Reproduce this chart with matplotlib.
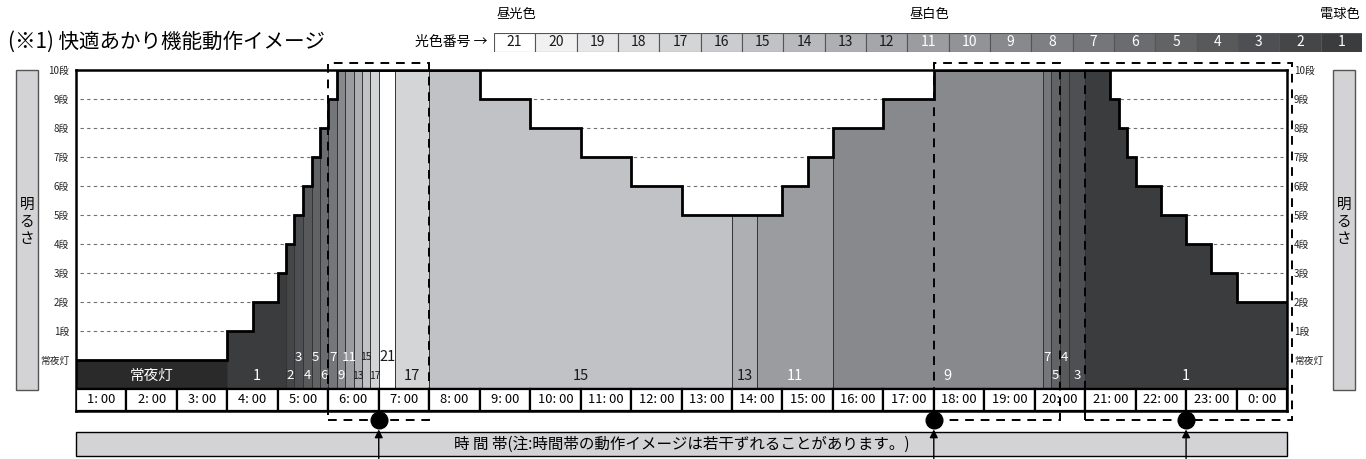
import matplotlib
matplotlib.use("Agg")
import matplotlib.pyplot as plt
from matplotlib.patches import Rectangle
import numpy as np

plt.rcParams['font.family'] = ['Noto Sans CJK JP', 'DejaVu Sans']

# brightness profile: x is in hour-box units (0 = left edge of the "1: 00" box)
step_edges = [0, 3, 3.5, 4, 4.17, 4.33, 4.5, 4.67, 4.83, 5, 5.17, 8, 9, 10, 11, 12,
              14, 14.5, 15, 16, 17, 20.5, 20.67, 20.83, 21, 21.5, 22, 22.5, 23, 24]
step_levels = [0, 1, 2, 3, 4, 5, 6, 7, 8, 9, 10, 9, 8, 7, 6, 5,
               6, 7, 8, 9, 10, 9, 8, 7, 6, 5, 4, 3, 2]

# light colour segments (光色番号), 0 = 常夜灯
seg_edges = [0, 3, 4.17, 4.33, 4.5, 4.67, 4.83, 5, 5.17, 5.33, 5.5, 5.67, 5.83, 6,
             6.33, 7, 13, 13.5, 15, 19.17, 19.33, 19.5, 19.67, 20, 24]
seg_colors = [0, 1, 2, 3, 4, 5, 6, 7, 9, 11, 13, 15, 17, 21, 17, 15, 13, 11, 9, 7, 5, 4, 3, 1]

hours = ['1: 00', '2: 00', '3: 00', '4: 00', '5: 00', '6: 00', '7: 00', '8: 00',
         '9: 00', '10: 00', '11: 00', '12: 00', '13: 00', '14: 00', '15: 00', '16: 00',
         '17: 00', '18: 00', '19: 00', '20: 00', '21: 00', '22: 00', '23: 00', '0: 00']
level_labels = ['常夜灯', '1段', '2段', '3段', '4段', '5段', '6段', '7段', '8段', '9段', '10段']

# legend strip
legend_numbers = [21, 20, 19, 18, 17, 16, 15, 14, 13, 12, 11, 10, 9, 8, 7, 6, 5, 4, 3, 2, 1]
palette = {0: '#2a2a2a', 1: '#3b3c3e', 2: '#454648', 3: '#4e4f52', 4: '#58595b', 5: '#626365',
           6: '#6b6c6f', 7: '#757679', 8: '#7e7f82', 9: '#88898c', 10: '#929396', 11: '#9b9c9f',
           12: '#a5a6a9', 13: '#aeafb2', 14: '#b8b9bc', 15: '#c1c2c5', 16: '#cbcccf',
           17: '#d4d5d7', 18: '#dedee0', 19: '#e7e7e9', 20: '#f1f1f2', 21: '#ffffff'}

# highlighted periods (dashed boxes) and marker positions
hl_start = [5, 17, 20]
hl_end = [7, 19.5, 24.1]
hl_mark = [6, 17, 22]

W, H = 1366, 459
fig = plt.figure(figsize=(W / 100, H / 100), dpi=100)
ax = fig.add_axes([76 / W, 1 - 411 / H, 1211 / W, 341 / H])
ax.set_xlim(0, 24)
ax.set_ylim(-1.76, 10)


def level_at(x):
    i = np.searchsorted(step_edges, x, side='right') - 1
    return step_levels[min(i, len(step_levels) - 1)]


# dashed grid (only shows in the white part)
ax.hlines(range(1, 10), 0.08, 23.92, colors='#6f6f6f', linestyles=(0, (3, 3)), lw=0.8, zorder=1)

# coloured areas
for i, c in enumerate(seg_colors):
    a, b = seg_edges[i], seg_edges[i + 1]
    xs = [a] + [e for e in step_edges if a < e < b] + [b]
    ys = [level_at(x) for x in xs]
    ys[-1] = ys[-2]
    ax.fill_between(xs, -1, ys, step='post', color=palette[c], lw=0, zorder=2)

for e in seg_edges[1:-1]:
    h = min(level_at(e - 1e-6), level_at(e))
    ax.vlines(e, -1, h, colors='#333333', lw=0.7, zorder=3)

ax.stairs(step_levels, step_edges, baseline=None, color='black', lw=2, zorder=4)
ax.axhline(-1, color='black', lw=1.6, zorder=4)

# labels inside the coloured areas
for i, c in enumerate(seg_colors):
    a, b = seg_edges[i], seg_edges[i + 1]
    narrow = (b - a) < 0.4
    y = 0.1 if (narrow and i % 2 == 1) else -0.55
    x = (a + b) / 2
    if c == 9 and not narrow:
        x = 17.28
    txt = '常夜灯' if c == 0 else str(c)
    col = 'white' if c <= 11 else '#1a1a1a'
    fs = 7.5 if (narrow and c >= 13 and c != 21) else 10.5
    if narrow and c < 13:
        fs = 9.5
    ax.text(x, y, txt, ha='center', va='center', color=col, fontsize=fs, zorder=5)

# time row
for i, lab in enumerate(hours):
    ax.add_patch(Rectangle((i, -1.76), 1, 0.76, fc='white', ec='black', lw=1.6, zorder=4))
    ax.text(i + 0.5, -1.38, lab, ha='center', va='center', fontsize=9.3, zorder=5)

for s in ax.spines.values():
    s.set_linewidth(1.8)
ax.set_xticks([])
ax.set_yticks(range(11), level_labels)
ax.tick_params(axis='y', length=0, labelsize=7, labelright=True, pad=5)
for t in ax.get_yticklabels():
    t.set_color('#222222')

# dashed highlight boxes, markers and arrows
for s, e in zip(hl_start, hl_end):
    ax.add_patch(Rectangle((s, -2.07), e - s, 12.31, fill=False, ec='black', lw=1.4,
                           ls=(0, (4.5, 3.5)), clip_on=False, zorder=6))
ax.plot(hl_mark, [-2.07] * len(hl_mark), 'o', ms=12, color='black', clip_on=False, zorder=8)

ax.add_patch(Rectangle((0, -3.31), 24, 0.83, fc='#d3d3d5', ec='black', lw=1, clip_on=False, zorder=5))
ax.text(12, -2.9, '時 間 帯(注:時間帯の動作イメージは若干ずれることがあります。)',
        ha='center', va='center', fontsize=11.2, zorder=7)
for m in hl_mark:
    ax.annotate('', xy=(m, -2.3), xytext=(m, -3.5),
                arrowprops=dict(arrowstyle='-|>', color='black', lw=1, mutation_scale=12),
                annotation_clip=False, zorder=7)

# 明るさ side bars
for x0 in (16, 1333):
    fig.patches.append(Rectangle((x0 / W, 1 - 390 / H), 22 / W, 320 / H, fc='#d3d3d5',
                                 ec='#555555', lw=1, transform=fig.transFigure))
    fig.text((x0 + 11) / W, 1 - 222 / H, '明\nる\nさ', ha='center', va='center',
             fontsize=10.5, linespacing=1.3)

# title and legend strip
fig.text(8 / W, 1 - 42 / H, '(※1) 快適あかり機能動作イメージ', ha='left', va='center', fontsize=14.8)
fig.text(415 / W, 1 - 42 / H, '光色番号 →', ha='left', va='center', fontsize=10)

lax = fig.add_axes([494 / W, 1 - 52 / H, 868 / W, 19 / H])
lax.bar(range(len(legend_numbers)), 1, width=1, align='edge',
        color=[palette[n] for n in legend_numbers], edgecolor='#555555', lw=0.8)
for i, n in enumerate(legend_numbers):
    lax.text(i + 0.5, 0.5, str(n), ha='center', va='center', fontsize=10,
             color='white' if n <= 11 else '#1a1a1a')
lax.set_xlim(0, 21)
lax.set_ylim(0, 1)
lax.axis('off')
lax.text(0.05, 1.95, '昼光色', ha='left', va='center', fontsize=9.5)
lax.text(10.05, 1.95, '昼白色', ha='left', va='center', fontsize=9.5)
lax.text(20.95, 1.95, '電球色', ha='right', va='center', fontsize=9.5)

fig.savefig('out.png', dpi=100)
